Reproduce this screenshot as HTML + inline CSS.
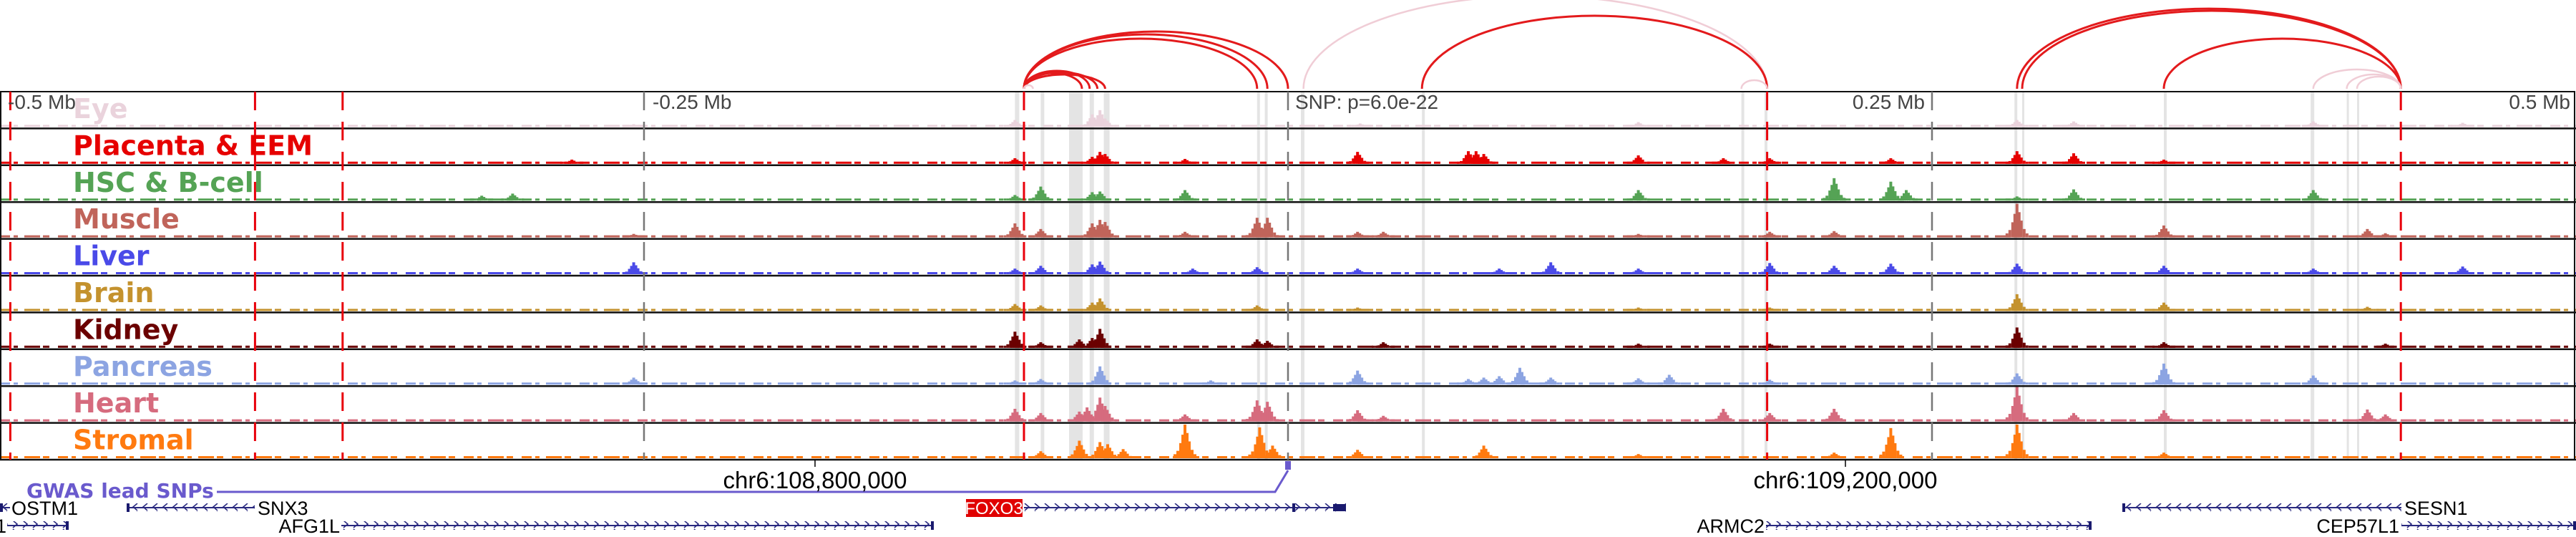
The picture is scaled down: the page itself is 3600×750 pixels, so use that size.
<!DOCTYPE html>
<html><head><meta charset="utf-8">
<style>
html,body{margin:0;padding:0;background:#fff;}
svg{display:block;font-family:"Liberation Sans","DejaVu Sans",sans-serif;}
</style></head>
<body>
<svg id="chart" width="3600" height="750" viewBox="0 0 3600 750" xmlns="http://www.w3.org/2000/svg">
<defs>
<pattern id="chevR" width="14" height="12" patternUnits="userSpaceOnUse" y="-6"><path d="M4,1 L10,6 L4,11" fill="none" stroke="#2a2a80" stroke-width="1.6"/></pattern>
<pattern id="chevL" width="14" height="12" patternUnits="userSpaceOnUse" y="-6"><path d="M10,1 L4,6 L10,11" fill="none" stroke="#2a2a80" stroke-width="1.6"/></pattern>
</defs>
<g id="arcs"></g>
<g id="highlights"></g>
<g id="tracks"></g>
<g id="vlines"></g>
<g id="labels"></g>
<g id="bottom"></g>
</svg>
<script>
// ---- data ----
const trackNames = ["Eye","Placenta & EEM","HSC & B-cell","Muscle","Liver","Brain","Kidney","Pancreas","Heart","Stromal"];
const trackColors = ["#ead3dc","#e60000","#55a355","#c0645a","#4a4ae8","#c4922e","#6b0000","#8ca4e2","#d66b7e","#ff7a10"];
// peaks: kb relative to lead SNP, signal height (0-50)
const eyePos = [-106,-76,-73,-71,28,136,283,305,398,456,-254];
const eyeVal = [10,18,24,12,5,7,10,8,8,6,4];
const placentaPos = [-106,-76,-73,-71,-40,27,70,73,76,136,169,187,234,283,305,340,-278];
const placentaVal = [8,10,17,14,7,17,18,18,14,12,8,8,8,18,15,6,6];
const hscPos = [-106,-96,-76,-73,-40,136,212,214,234,240,283,305,398,-301,-313];
const hscVal = [8,20,12,13,15,15,32,8,27,15,6,16,15,10,7];
const musclePos = [-106,-96,-76,-73,-71,-40,-12,-8,27,37,136,187,212,283,340,419,426,-254];
const muscleVal = [20,12,20,25,22,8,28,28,8,8,5,8,9,48,17,12,6,5];
const liverPos = [-106,-96,-76,-73,-37,-12,27,82,102,136,187,212,234,283,340,398,456,-254];
const liverVal = [8,12,14,18,8,10,8,8,17,8,16,12,15,15,12,8,11,17];
const brainPos = [-106,-96,-76,-73,-12,27,136,187,283,340,419];
const brainVal = [10,8,12,18,8,5,5,5,24,12,6];
const kidneyPos = [-106,-96,-81,-76,-73,-12,-8,37,136,187,283,340,426];
const kidneyVal = [23,8,12,14,27,12,10,8,6,6,29,8,6];
const pancreasPos = [-106,-96,-73,-30,27,70,76,82,90,102,136,148,187,283,340,398,-254];
const pancreasVal = [6,8,26,6,20,8,10,12,24,10,9,14,7,16,30,13,10];
const heartPos = [-106,-96,-81,-78,-73,-71,-40,-12,-8,27,37,169,187,212,283,305,340,419,426];
const heartVal = [18,12,14,20,34,22,10,30,28,16,8,18,12,18,49,12,16,17,10];
const stromalPos = [-96,-81,-73,-70,-64,-40,-11,-6,27,76,136,212,234,283,340];
const stromalVal = [10,25,23,20,13,48,44,18,12,18,6,8,43,48,8];
const allPos = [eyePos,placentaPos,hscPos,musclePos,liverPos,brainPos,kidneyPos,pancreasPos,heartPos,stromalPos];
const allVal = [eyeVal,placentaVal,hscVal,muscleVal,liverVal,brainVal,kidneyVal,pancreasVal,heartVal,stromalVal];
// loops
const arcStart = [-102.5,-102.5,-102.5,-102.5,-102.5,-102.5,-102.5,-102.5,6,52,176,283,285,340,398,411,415];
const arcEnd   = [-80,-77,-74,-71,-12,-8,0,-99,186,186,186,432,432,432,432,432,432];
const arcHeight= [22,25,23,20,70,76,80,5,130,102,12,112,109,70,27,20,17];
const arcStrong= [1,1,1,1,1,1,1,0,0,1,0,1,1,1,0,0,0];
const highlightStart = [-106,-96,-85,-77,-71.5,-12,-9,5,52,176,185,282,285,340,397,411,415];
const highlightWidth = [6,5,19,6,8,4,4,5,4,4,4,4,3,4,5,3,3];
const redDashKb = [-496,-401,-367,-102.5,186,432];
const grayDashKb = [-250,0,250];
const axisLabels = ["-0.5 Mb","-0.25 Mb","SNP: p=6.0e-22","0.25 Mb","0.5 Mb"];
// ---- scales ----
const x = kb => 1800 + kb*3.6;
const top0 = 128, trackH = 51.4;
const yVal = v => v*0.98;
const NS = "http://www.w3.org/2000/svg";
function mk(tag, attrs, parent){const e=document.createElementNS(NS,tag);for(const k in attrs)e.setAttribute(k,attrs[k]);parent.appendChild(e);return e;}
const G = id => document.getElementById(id);
// peak shape (fractions of peak height at pixel offsets) - rendering style only
const shapeOff = [-14,-10,-6,-3,0,3,6,10,14];
const shapeFrac = [0.12,0.22,0.45,0.7,1,0.75,0.5,0.25,0.12];

// arcs
const arcG = G('arcs');
for(let i=0;i<arcStart.length;i++){
  const x1=x(arcStart[i]), x2=x(arcEnd[i]);
  const a=mk('path',{d:`M${x1},124 A${Math.abs(x2-x1)/2},${arcHeight[i]} 0 0 1 ${x2},124`,fill:'none',stroke:arcStrong[i]?'#e31a1c':'#f0cdd6','stroke-width':arcStrong[i]?3:2.5},arcG);
  
  
}
// highlights
const hG=G('highlights');
for(let i=0;i<highlightStart.length;i++){
  const r=mk('rect',{x:x(highlightStart[i]),y:top0,width:highlightWidth[i],height:trackH*10,fill:'#e4e4e4'},hG);
  
  
}
// tracks
const tG=G('tracks');
for(let t=0;t<10;t++){
  const base=top0+trackH*(t+1)-2;
  const col=trackColors[t];
  const bl=mk('line',{x1:0,x2:3600,y1:base-1.5,y2:base-1.5,stroke:col,'stroke-width':3,'stroke-dasharray':'14,5,6,9,22,4,9,12'},tG);
  
  
  const ps=allPos[t], vs=allVal[t];
  for(let i=0;i<ps.length;i++){
    const cx=x(ps[i]), h=yVal(vs[i]);
    const g=mk('g',{},tG);
    
    
    for(let j=0;j<shapeOff.length;j++){
      const hh=Math.max(3,h*shapeFrac[j]);
      mk('rect',{x:cx+shapeOff[j]-2,y:base-hh,width:4,height:hh,fill:col},g);
    }
  }
  const sep=mk('line',{x1:0,x2:3600,y1:top0+trackH*(t+1),y2:top0+trackH*(t+1),stroke:'#111','stroke-width':2.5},tG);
  
  
}
const frame=mk('rect',{x:1,y:top0,width:3597,height:trackH*10,fill:'none',stroke:'#111','stroke-width':2},tG);


// vertical lines
const vG=G('vlines');
redDashKb.forEach(k=>{const l=mk('line',{x1:x(k),x2:x(k),y1:top0,y2:642,stroke:'#e8000b','stroke-width':3,'stroke-dasharray':'26,16'},vG);
  
  });
grayDashKb.forEach(k=>{const l=mk('line',{x1:x(k),x2:x(k),y1:top0,y2:642,stroke:'#777','stroke-width':2.5,'stroke-dasharray':'26,16'},vG);
  
  });
// labels
const lG=G('labels');
const axX=[11,912,1810,2690,3592], axA=['start','start','start','end','end'];
axisLabels.forEach((s,i)=>{const e=mk('text',{x:axX[i],y:152,'font-size':28,fill:'#444','text-anchor':axA[i]},lG);e.textContent=s;
  
  });
trackNames.forEach((n,t)=>{const e=mk('text',{x:102,y:top0+trackH*t+37,'font-size':38,'font-weight':'bold','font-family':'"DejaVu Sans","Liberation Sans",sans-serif',fill:trackColors[t]},lG);e.textContent=n;
  
  });
// bottom annotations
const bG=G('bottom');
const gw=mk('text',{x:37,y:695,'font-size':28,'font-weight':'bold','font-family':'"DejaVu Sans","Liberation Sans",sans-serif',fill:'#6a5acd'},bG);gw.textContent='GWAS lead SNPs';


const gl=mk('polyline',{points:`303,687 1782,687 ${x(0)},657`,fill:'none',stroke:'#6a5acd','stroke-width':3},bG);


const snp=mk('rect',{x:x(0)-4,y:644,width:8,height:12,fill:'#6a5acd'},bG);


const coords=[["chr6:108,800,000",1139],["chr6:109,200,000",2579]];
coords.forEach(c=>{const e=mk('text',{x:c[1],y:682,'font-size':33,'text-anchor':'middle',fill:'#000'},bG);e.textContent=c[0];
  
  
  mk('line',{x1:c[1],x2:c[1],y1:642,y2:652,stroke:'#000','stroke-width':1.5},bG);});
// genes: name, lineStart, lineEnd, row, dir, labelX, labelAnchor
const genes=[["OSTM1",0,14,0,-1,16,'start'],["SNX3",177,356,0,-1,360,'start'],["FOXO3",1431,1881,0,1,0,'box'],["SESN1",2966,3356,0,-1,3360,'start'],
 ["1",10,96,1,1,9,'end'],["AFG1L",477,1305,1,1,475,'end'],["ARMC2",2468,2923,1,1,2466,'end'],["CEP57L1",3356,3600,1,1,3353,'end']];
genes.forEach(g=>{
  const y=g[3]?734:709;
  const grp=mk('g',{},bG);
  
  
  mk('rect',{x:g[1],y:y-6,width:g[2]-g[1],height:12,fill:g[4]>0?'url(#chevR)':'url(#chevL)'},grp);
  mk('line',{x1:g[1],x2:g[2],y1:y,y2:y,stroke:'#2a2a80','stroke-width':2},grp);
  if(g[6]==='box'){
    mk('rect',{x:1350,y:697,width:79,height:25,fill:'#e00000'},grp);
    const t=mk('text',{x:1389,y:718,'font-size':24,'text-anchor':'middle',fill:'#fff'},grp);t.textContent=g[0];
    mk('rect',{x:1863,y:704,width:18,height:10,fill:'#1a1a6e'},grp);
    mk('rect',{x:1806,y:703,width:4,height:12,fill:'#1a1a6e'},grp);
  } else {
    const t=mk('text',{x:g[5],y:y+10,'font-size':27,'text-anchor':g[6],fill:'#000'},grp);t.textContent=g[0];
    mk('rect',{x:g[4]>0?g[2]-4:g[1],y:y-6,width:4,height:12,fill:'#1a1a6e'},grp);
  }
});
</script>
</body></html>
